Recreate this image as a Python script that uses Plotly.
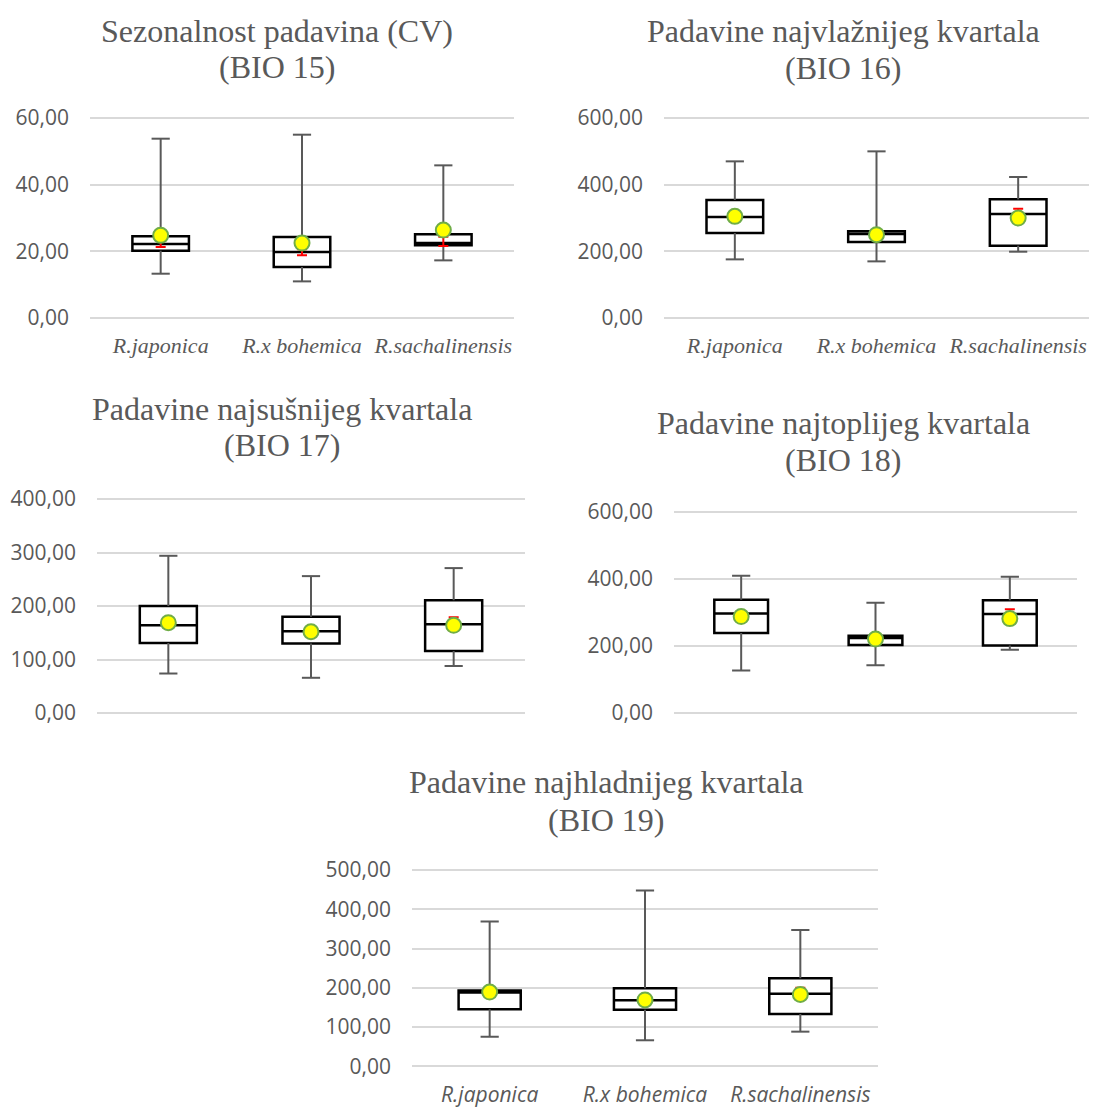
import plotly.graph_objects as go

W, H = 1094, 1108

categories = ["R.japonica", "R.x bohemica", "R.sachalinensis"]

# BIO 15
b15_low = [13.3, 11.0, 17.3]
b15_q1 = [20.2, 15.3, 21.8]
b15_med = [22.2, 19.8, 22.5]
b15_q3 = [24.5, 24.3, 25.1]
b15_high = [53.8, 55.0, 45.8]
b15_mean = [24.8, 22.5, 26.4]
b15_red_lo = [21.3, 18.8, 21.6]
b15_red_hi = [23.3, 20.6, 24.4]

# BIO 16
b16_low = [176, 170, 199]
b16_q1 = [255, 228, 217]
b16_med = [303, 252, 312]
b16_q3 = [354, 260, 356]
b16_high = [470, 500, 423]
b16_mean = [305, 250, 300]
b16_red_lo = [297, 242, 286]
b16_red_hi = [313, 258, 328]

# BIO 17
b17_low = [74, 66, 88]
b17_q1 = [131, 130, 116]
b17_med = [164, 153, 166]
b17_q3 = [200, 180, 211]
b17_high = [294, 256, 271]
b17_mean = [169, 152, 164]
b17_red_lo = [163, 146, 154]
b17_red_hi = [175, 158, 179]

# BIO 18
b18_low = [127, 143, 189]
b18_q1 = [239, 203, 202]
b18_med = [297, 224, 296]
b18_q3 = [338, 231, 337]
b18_high = [410, 329, 407]
b18_mean = [288, 221, 282]
b18_red_lo = [278, 211, 268]
b18_red_hi = [298, 231, 310]

# BIO 19
b19_low = [75, 66, 88]
b19_q1 = [145, 144, 133]
b19_med = [188, 168, 185]
b19_q3 = [193, 199, 224]
b19_high = [369, 448, 347]
b19_mean = [189, 169, 183]
b19_red_lo = [181, 161, 172]
b19_red_hi = [197, 177, 200]

titles = [
    ("Sezonalnost padavina (CV)", "(BIO 15)"),
    ("Padavine najvlažnijeg kvartala", "(BIO 16)"),
    ("Padavine najsušnijeg kvartala", "(BIO 17)"),
    ("Padavine najtoplijeg kvartala", "(BIO 18)"),
    ("Padavine najhladnijeg kvartala", "(BIO 19)"),
]

panels = [
    dict(low=b15_low, q1=b15_q1, med=b15_med, q3=b15_q3, high=b15_high, mean=b15_mean,
         rlo=b15_red_lo, rhi=b15_red_hi, ymax=60, dtick=20,
         px=(90, 514), py=(117, 317), xlabels="serif",
         t1=(277, 30), t2=(277, 66)),
    dict(low=b16_low, q1=b16_q1, med=b16_med, q3=b16_q3, high=b16_high, mean=b16_mean,
         rlo=b16_red_lo, rhi=b16_red_hi, ymax=600, dtick=200,
         px=(664, 1089), py=(117, 317), xlabels="serif",
         t1=(843, 30), t2=(843, 67)),
    dict(low=b17_low, q1=b17_q1, med=b17_med, q3=b17_q3, high=b17_high, mean=b17_mean,
         rlo=b17_red_lo, rhi=b17_red_hi, ymax=400, dtick=100,
         px=(97, 525), py=(498, 712), xlabels=None,
         t1=(282, 408), t2=(282, 444)),
    dict(low=b18_low, q1=b18_q1, med=b18_med, q3=b18_q3, high=b18_high, mean=b18_mean,
         rlo=b18_red_lo, rhi=b18_red_hi, ymax=600, dtick=200,
         px=(674, 1077), py=(511, 712), xlabels=None,
         t1=(843, 422), t2=(843, 459)),
    dict(low=b19_low, q1=b19_q1, med=b19_med, q3=b19_q3, high=b19_high, mean=b19_mean,
         rlo=b19_red_lo, rhi=b19_red_hi, ymax=500, dtick=100,
         px=(412, 878), py=(869, 1065), xlabels="sans",
         t1=(606, 781), t2=(606, 819)),
]

# the photographed page is placed slightly lower and squeezed vertically;
# map intended picture rows to page rows
TOP, SCALE = 11.0, 0.98


def page_y(y):
    return (y - TOP) / SCALE


GRAY = "#595959"
PAD = 3
fig = go.Figure()
layout = dict(width=W, height=H, margin=dict(l=0, r=0, t=0, b=0),
              paper_bgcolor="white", plot_bgcolor="white", showlegend=False,
              separators=", ", annotations=[])

for i, p in enumerate(panels):
    n = i + 1
    xa = "x" if n == 1 else f"x{n}"
    ya = "y" if n == 1 else f"y{n}"
    wx, wy = [], []
    for c, lo, q1, q3, hi in zip(categories, p["low"], p["q1"], p["q3"], p["high"]):
        wx += [c, c, None, c, c, None]
        wy += [q3, hi, None, q1, lo, None]
    fig.add_trace(go.Scatter(x=wx, y=wy, mode="lines", line=dict(color=GRAY, width=2),
                             xaxis=xa, yaxis=ya, hoverinfo="skip"))
    fig.add_trace(go.Scatter(x=categories * 2, y=p["high"] + p["low"], mode="markers",
                             marker=dict(symbol="line-ew", size=13,
                                         line=dict(color=GRAY, width=2)),
                             xaxis=xa, yaxis=ya, hoverinfo="skip"))
    fig.add_trace(go.Box(x=categories, q1=p["q1"], median=p["med"], q3=p["q3"],
                         lowerfence=p["q1"], upperfence=p["q3"], width=0.4,
                         fillcolor="white", line=dict(color="black", width=2.5),
                         whiskerwidth=0, boxpoints=False, xaxis=xa, yaxis=ya,
                         hoverinfo="skip"))
    ctr = [(a + b) / 2 for a, b in zip(p["rlo"], p["rhi"])]
    err = [(b - a) / 2 for a, b in zip(p["rlo"], p["rhi"])]
    fig.add_trace(go.Scatter(x=categories, y=ctr, mode="markers",
                             marker=dict(size=1, opacity=0),
                             error_y=dict(type="data", array=err, color="red",
                                          thickness=2, width=5),
                             xaxis=xa, yaxis=ya, hoverinfo="skip"))
    fig.add_trace(go.Scatter(x=categories, y=p["mean"], mode="markers",
                             marker=dict(symbol="circle", size=15, color="#ffff00",
                                         line=dict(color="#70ad47", width=2)),
                             xaxis=xa, yaxis=ya, hoverinfo="skip"))

    x0, x1 = p["px"]
    y0, y1 = page_y(p["py"][0]), page_y(p["py"][1])
    upp = p["ymax"] / (y1 - y0)
    xkey = "xaxis" if n == 1 else f"xaxis{n}"
    ykey = "yaxis" if n == 1 else f"yaxis{n}"
    xaxis = dict(domain=[x0 / W, x1 / W], anchor=ya, type="category",
                 categoryorder="array", categoryarray=categories,
                 range=[-0.5, 2.5], showgrid=False, zeroline=False, showline=False,
                 ticks="")
    if p["xlabels"] == "serif":
        xaxis.update(showticklabels=True, ticklabelstandoff=9,
                     tickfont=dict(family="Liberation Serif", size=22, color=GRAY,
                                   style="italic"))
    elif p["xlabels"] == "sans":
        xaxis.update(showticklabels=True, ticklabelstandoff=11,
                     tickfont=dict(family="Open Sans", size=21, color=GRAY,
                                   style="italic"))
    else:
        xaxis.update(showticklabels=False)
    yaxis = dict(domain=[1 - (y1 + PAD) / H, 1 - (y0 - PAD) / H], anchor=xa,
                 range=[-PAD * upp, p["ymax"] + PAD * upp],
                 dtick=p["dtick"], tick0=0, tickformat=".2f", showgrid=True,
                 gridcolor="#d9d9d9", gridwidth=1.5, zeroline=False, showline=False,
                 ticks="", ticklabelstandoff=20,
                 tickfont=dict(family="Open Sans", size=21, color=GRAY))
    layout[xkey] = xaxis
    layout[ykey] = yaxis

    (l1, l2) = titles[i]
    for txt, (tx, ty) in ((l1, p["t1"]), (l2, p["t2"])):
        layout["annotations"].append(dict(
            text=txt, x=tx / W, y=1 - page_y(ty) / H, xref="paper", yref="paper",
            xanchor="center", yanchor="middle", showarrow=False,
            font=dict(family="Liberation Serif", size=32, color=GRAY)))

fig.update_layout(**layout)
post = (
    "document.body.style.margin='0';"
    "document.body.style.overflow='hidden';"
)
fig.write_html("out.html", config={"displayModeBar": False}, post_script=post)
